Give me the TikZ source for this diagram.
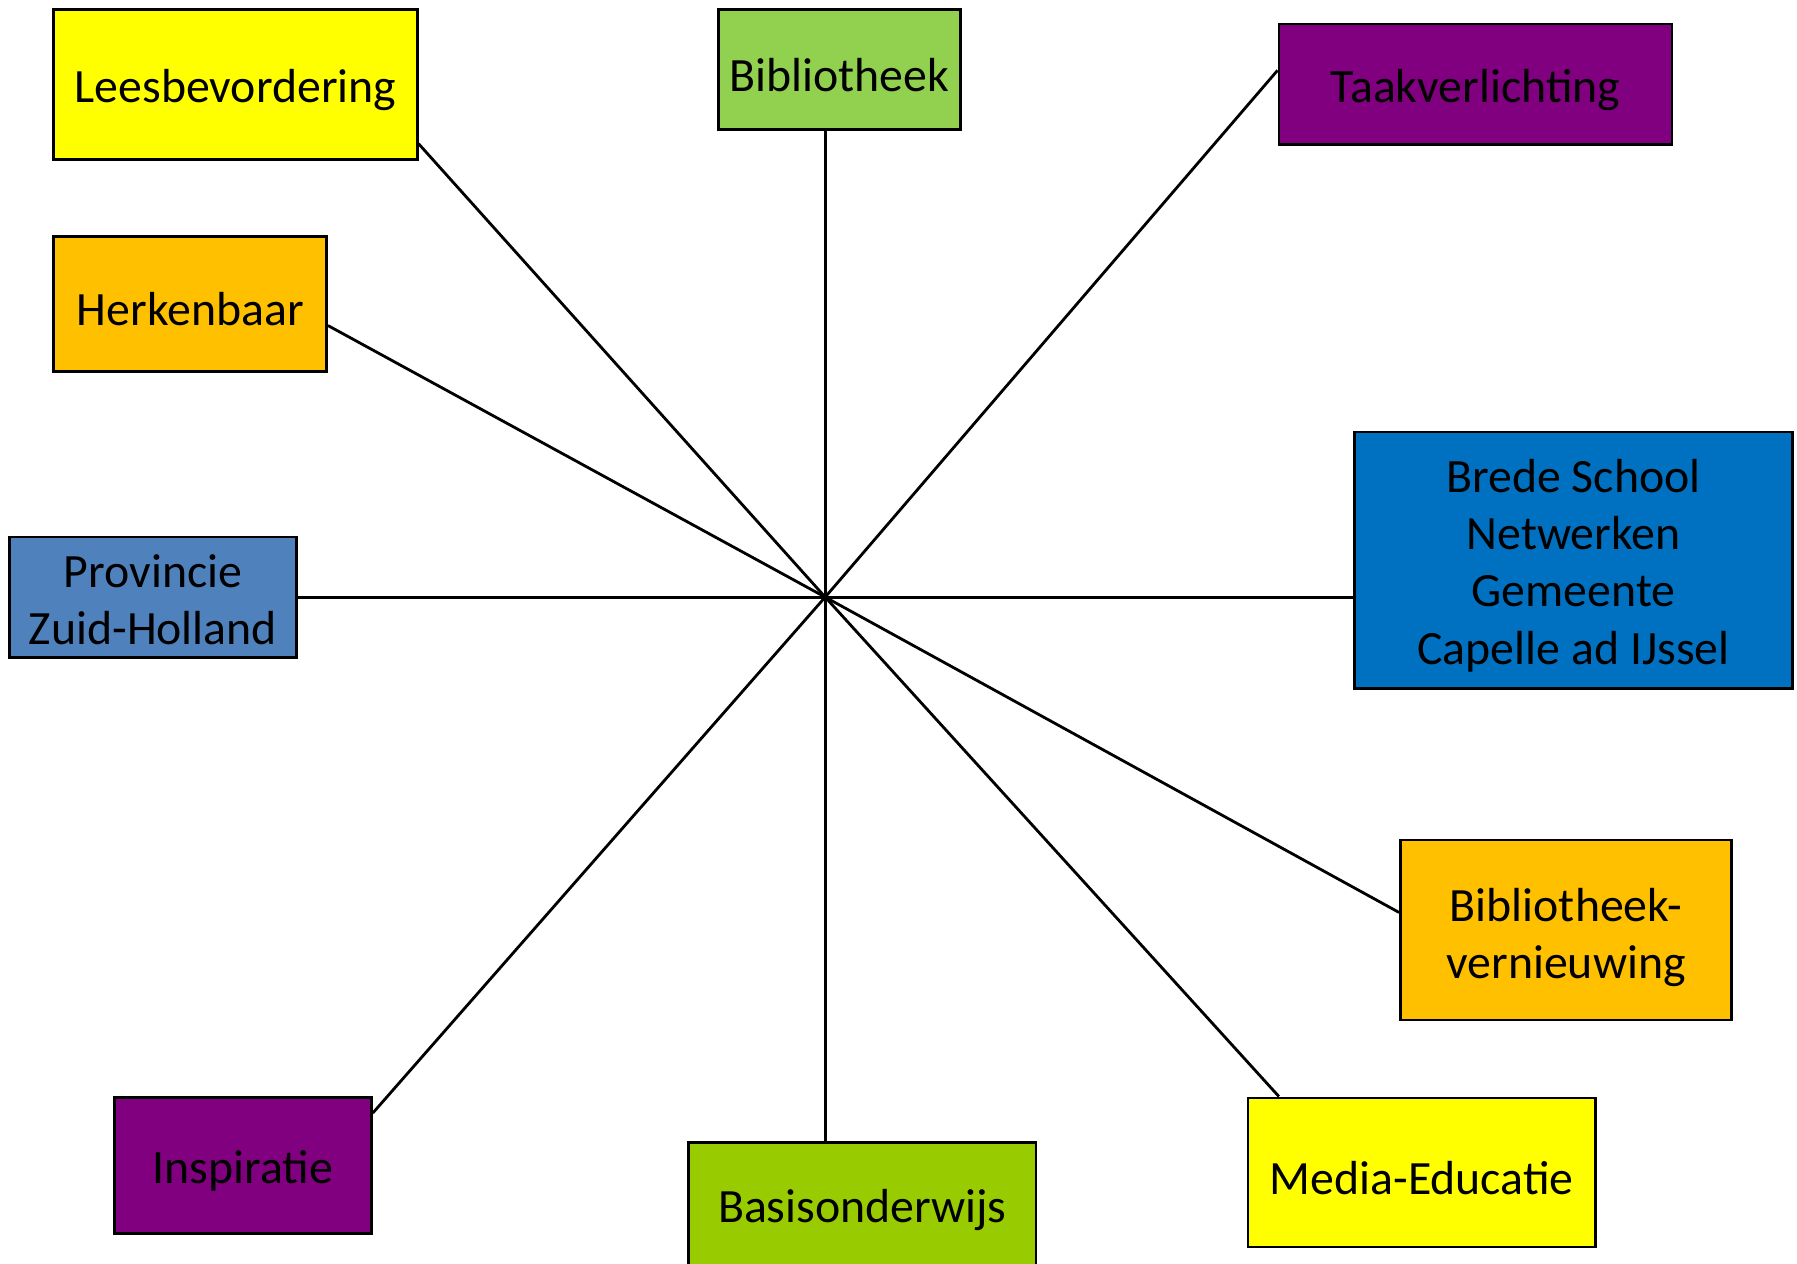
\documentclass[tikz,border=0pt]{standalone}
\usepackage{fontspec}
\setmainfont{Carlito}
\definecolor{geel}{HTML}{FFFF00}
\definecolor{lichtgroen}{HTML}{92D050}
\definecolor{groen}{HTML}{99CC00}
\definecolor{paars}{HTML}{800080}
\definecolor{oranje}{HTML}{FFC000}
\definecolor{grijsblauw}{HTML}{4F81BD}
\definecolor{blauw}{HTML}{0070C0}

\begin{document}
\begin{tikzpicture}[line width=0.8pt,
  box/.style={rectangle,draw,inner sep=0pt,align=center,
    font=\fontsize{13.6}{16.3}\selectfont,
    execute at begin node={\rule{0pt}{12.5pt}}}]
  \useasboundingbox (0,0) rectangle (17.97,-12.63);
  \coordinate (c) at (8.252,-5.971);
  \node[box,fill=geel,minimum width=3.633cm,minimum height=1.501cm] (lees) at (2.355,-0.842) {Leesbevordering};
  \node[box,fill=lichtgroen,minimum width=2.418cm,minimum height=1.203cm] (bib) at (8.395,-0.693) {Bibliotheek};
  \node[box,fill=paars,minimum width=3.931cm,minimum height=1.203cm] (taak) at (14.755,-0.842) {Taakverlichting};
  \node[box,fill=oranje,minimum width=2.727cm,minimum height=1.352cm] (herk) at (1.902,-3.037) {Herkenbaar};
  \node[box,fill=grijsblauw,minimum width=2.876cm,minimum height=1.204cm] (prov) at (1.530,-5.971) {\rule{0pt}{10.8pt}Provincie\\Zuid-Holland};
  \node[box,fill=blauw,minimum width=4.378cm,minimum height=2.567cm] (brede) at (15.735,-5.604) {\rule{0pt}{12.3pt}Brede School\\Netwerken\\Gemeente\\Capelle ad IJssel};
  \node[box,fill=oranje,minimum width=3.312cm,minimum height=1.800cm] (vern) at (15.661,-9.300) {\rule{0pt}{13.7pt}Bibliotheek-\\vernieuwing};
  \node[box,fill=paars,minimum width=2.567cm,minimum height=1.353cm] (insp) at (2.430,-11.655) {Inspiratie};
  \node[box,fill=groen,minimum width=3.472cm,minimum height=1.250cm] (basis) at (8.624,-12.051) {Basisonderwijs};
  \node[box,fill=geel,minimum width=3.473cm,minimum height=1.490cm] (media) at (14.217,-11.724) {Media-Educatie};

  \draw (c) -- (lees.-18.3);
  \draw (c) -- (c |- bib.south);
  \draw (c) -- (taak.176.2);
  \draw (c) -- (herk.-9.5);
  \draw (c) -- (prov.east);
  \draw (c) -- (c -| brede.west);
  \draw (c) -- (vern.174.7);
  \draw (c) -- (media.152.4);
  \draw (c) -- (c |- basis.north);
  \draw (c) -- (insp.22.75);
\end{tikzpicture}
\end{document}
